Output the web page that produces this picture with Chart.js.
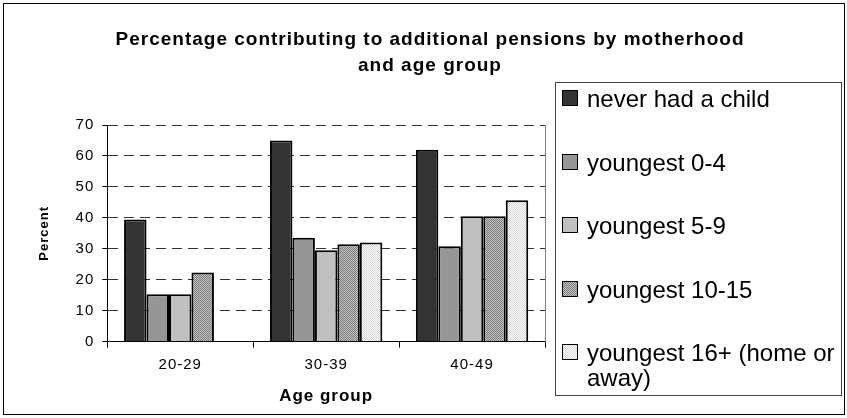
<!DOCTYPE html>
<html lang="en">
<head>
    <meta charset="UTF-8">
    <title>Additional pensions by motherhood</title>
    <script src="https://cdn.jsdelivr.net/npm/chart.js"></script>
    <style>
        body { margin: 0; background: #fff; font-family: Arial, "Liberation Sans", sans-serif; }
        #wrap { position: relative; width: 847px; height: 418px; }
        #frame { position: absolute; left: 3px; top: 3px; width: 840px; height: 410px; border: 1px solid #000; pointer-events: none; }
        #legend { position: absolute; left: 555px; top: 82px; width: 287px; height: 314px; border: 1px solid #444; box-sizing: border-box; padding: 3px 0 0 7px; }
        .item { font-size: 24px; line-height: 25px; color: #000; margin-bottom: 38.5px; position: relative; padding-left: 24px; }
        .sw { position: absolute; left: -1px; top: 4px; width: 14px; height: 14px; border: 1px solid #000; }
    </style>
</head>
<body>
<div id="wrap">
    <canvas id="chart" width="847" height="418"></canvas>
    <div id="legend"></div>
    <div id="frame"></div>
</div>
<script>
    // data
    const ageGroups = ['20-29', '30-39', '40-49'];
    const seriesNames = ['never had a child', 'youngest 0-4', 'youngest 5-9', 'youngest 10-15', 'youngest 16+ (home or away)'];
    const neverHad = [39.5, 65, 62];
    const youngest0to4 = [15.3, 33.6, 30.8];
    const youngest5to9 = [15.3, 29.5, 40.5];
    const youngest10to15 = [22.3, 31.5, 40.5];
    const youngest16plus = [null, 32, 45.7];
    const yMin = 0, yMax = 70, yStep = 10;

    function makePattern(a, b) {
        const c = document.createElement('canvas');
        c.width = 2; c.height = 2;
        const x = c.getContext('2d');
        x.fillStyle = a; x.fillRect(0, 0, 2, 2);
        x.fillStyle = b; x.fillRect(0, 0, 1, 1); x.fillRect(1, 1, 1, 1);
        return x.createPattern(c, 'repeat');
    }

    const ctx = document.getElementById('chart').getContext('2d');
    const fills = ['#333333', '#969696', '#c0c0c0', makePattern('#c4c4c4', '#7a7a7a'), makePattern('#ffffff', '#d4d4d4')];
    const cssFills = ['#333333', '#969696', '#c0c0c0',
        'repeating-conic-gradient(#7a7a7a 0 25%, #c4c4c4 0 50%) 0 0/2px 2px',
        'repeating-conic-gradient(#d4d4d4 0 25%, #ffffff 0 50%) 0 0/2px 2px'];
    const values = [neverHad, youngest0to4, youngest5to9, youngest10to15, youngest16plus];

    const spacing = {
        id: 'spacing',
        beforeLayout(c) { c.ctx.letterSpacing = '1px'; },
        beforeDraw(c) { c.ctx.letterSpacing = '1px'; }
    };

    Chart.defaults.font.family = 'Arial, "Liberation Sans", sans-serif';
    Chart.defaults.color = '#000';

    new Chart(ctx, {
        type: 'bar',
        data: {
            labels: ageGroups,
            datasets: seriesNames.map((name, i) => ({
                label: name,
                data: values[i],
                backgroundColor: fills[i],
                borderColor: '#000',
                borderWidth: 2,
                categoryPercentage: 0.77,
                barPercentage: 1.0
            }))
        },
        options: {
            responsive: false,
            animation: false,
            layout: { padding: { left: 30, right: 17, top: 0, bottom: 11 } },
            plugins: {
                legend: { display: false },
                tooltip: { enabled: false },
                title: {
                    display: true,
                    text: ['Percentage contributing to additional pensions by motherhood', 'and age group'],
                    font: { size: 19, weight: 'bold', lineHeight: 1.37 },
                    padding: { top: 27, bottom: 46 },
                    color: '#000'
                }
            },
            scales: {
                x: {
                    grid: { display: true, drawOnChartArea: false, drawTicks: true, tickLength: 6, color: '#000' },
                    border: { display: true, color: '#000', width: 1 },
                    ticks: { font: { size: 15 }, padding: 8 },
                    title: { display: true, text: 'Age group', font: { size: 17, weight: 'bold' }, padding: { top: 5, bottom: 0 } }
                },
                y: {
                    min: yMin, max: yMax,
                    ticks: { stepSize: yStep, font: { size: 15 }, padding: 8 },
                    grid: { color: '#333', tickColor: '#000', tickLength: 5, lineWidth: 1 },
                    border: { display: true, color: '#000', width: 1, dash: [10, 6] },
                    title: { display: true, text: 'Percent', font: { size: 13, weight: 'bold' }, padding: { top: 7, bottom: 15 } }
                },
                y2: {
                    position: 'right',
                    display: true,
                    grid: { display: false },
                    ticks: { display: false },
                    border: { display: true, color: '#808080', width: 1 },
                    afterFit(scale) { scale.width = 285; }
                }
            }
        },
        plugins: [spacing]
    });

    const legend = document.getElementById('legend');
    seriesNames.forEach((name, i) => {
        const item = document.createElement('div');
        item.className = 'item';
        const sw = document.createElement('span');
        sw.className = 'sw';
        sw.style.background = cssFills[i];
        item.appendChild(sw);
        item.appendChild(document.createTextNode(name));
        legend.appendChild(item);
    });
</script>
</body>
</html>
